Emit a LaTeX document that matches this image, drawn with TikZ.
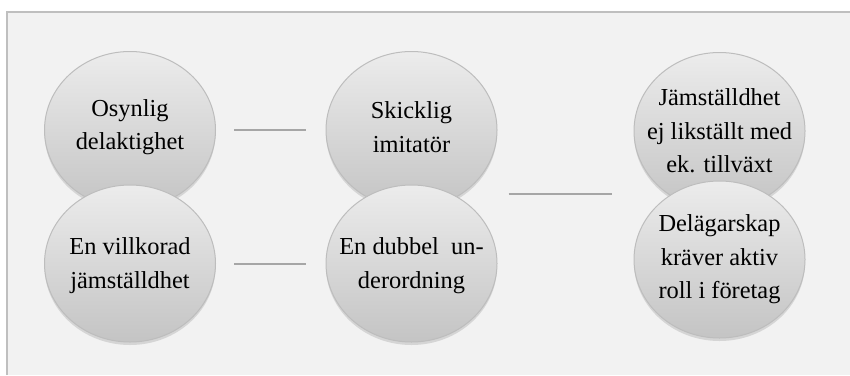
\documentclass[tikz,border=0pt]{standalone}
\usepackage{fontspec}
\setmainfont{Liberation Serif}
\usetikzlibrary{shapes.geometric,shadows}

\definecolor{panelfill}{HTML}{F2F2F2}
\definecolor{panelline}{HTML}{BFBFBF}
\definecolor{bubtop}{HTML}{ECECEC}
\definecolor{bubbottom}{HTML}{C4C4C4}
\definecolor{bubline}{HTML}{BDBDBD}
\definecolor{linkgray}{HTML}{A6A6A6}

\tikzset{
  bubble/.style={ellipse, draw=bubline, line width=0.5pt,
    top color=bubtop, bottom color=bubbottom,
    minimum width=85.5pt, minimum height=78.5pt, inner sep=0pt,
    drop shadow={opacity=0.25, shadow xshift=0pt, shadow yshift=-1.5pt}},
  bubtext/.style={align=center, inner sep=0pt, text=black,
    font=\fontsize{12.2}{16.8}\selectfont},
  link/.style={draw=linkgray, line width=1pt},
}

\begin{document}
\begin{tikzpicture}[x=0.5pt,y=-0.5pt]
\useasboundingbox (0,0) rectangle (850,375);
\def\ra{130}     % upper row
\def\rb{263.5}   % lower row
% panel
\fill[panelfill] (7,12) rectangle (850,375);
\draw[panelline, line width=1pt] (7,375) -- (7,12) -- (850,12);
% column 1
\node[bubble, label={[bubtext, yshift=1.5pt]center:Osynlig\\delaktighet}] (osynlig) at (130,\ra) {};
\node[bubble, label={[bubtext, yshift=-1pt]center:En villkorad\\jämställdhet}] (villkorad) at (130,\rb) {};
% column 2
\node[bubble, label={[bubtext, yshift=1.5pt]center:Skicklig\\imitatör}] (skicklig) at (411.5,\ra) {};
\node[bubble, label={[bubtext, yshift=-1pt]center:En dubbel~~un-\\derordning}] (dubbel) at (411.5,\rb) {};
% column 3
\node[bubble, label={[bubtext]center:Jämställdhet\\ej likställt med\\ek. tillväxt}] (jamst) at (719.5,131) {};
\node[bubble, label={[bubtext]center:Delägarskap\\kräver aktiv\\roll i företag}] (delag) at (719.5,259.5) {};
% links
\draw[link, shorten <=9pt, shorten >=10pt] (osynlig) -- (skicklig);
\draw[link, shorten <=9pt, shorten >=10pt] (villkorad) -- (dubbel);
\coordinate (midB) at (411.5,194);
\coordinate (midC) at (719.5,194);
\draw[link, shorten <=48.5pt, shorten >=54pt] (midB) -- (midC);
\end{tikzpicture}
\end{document}
